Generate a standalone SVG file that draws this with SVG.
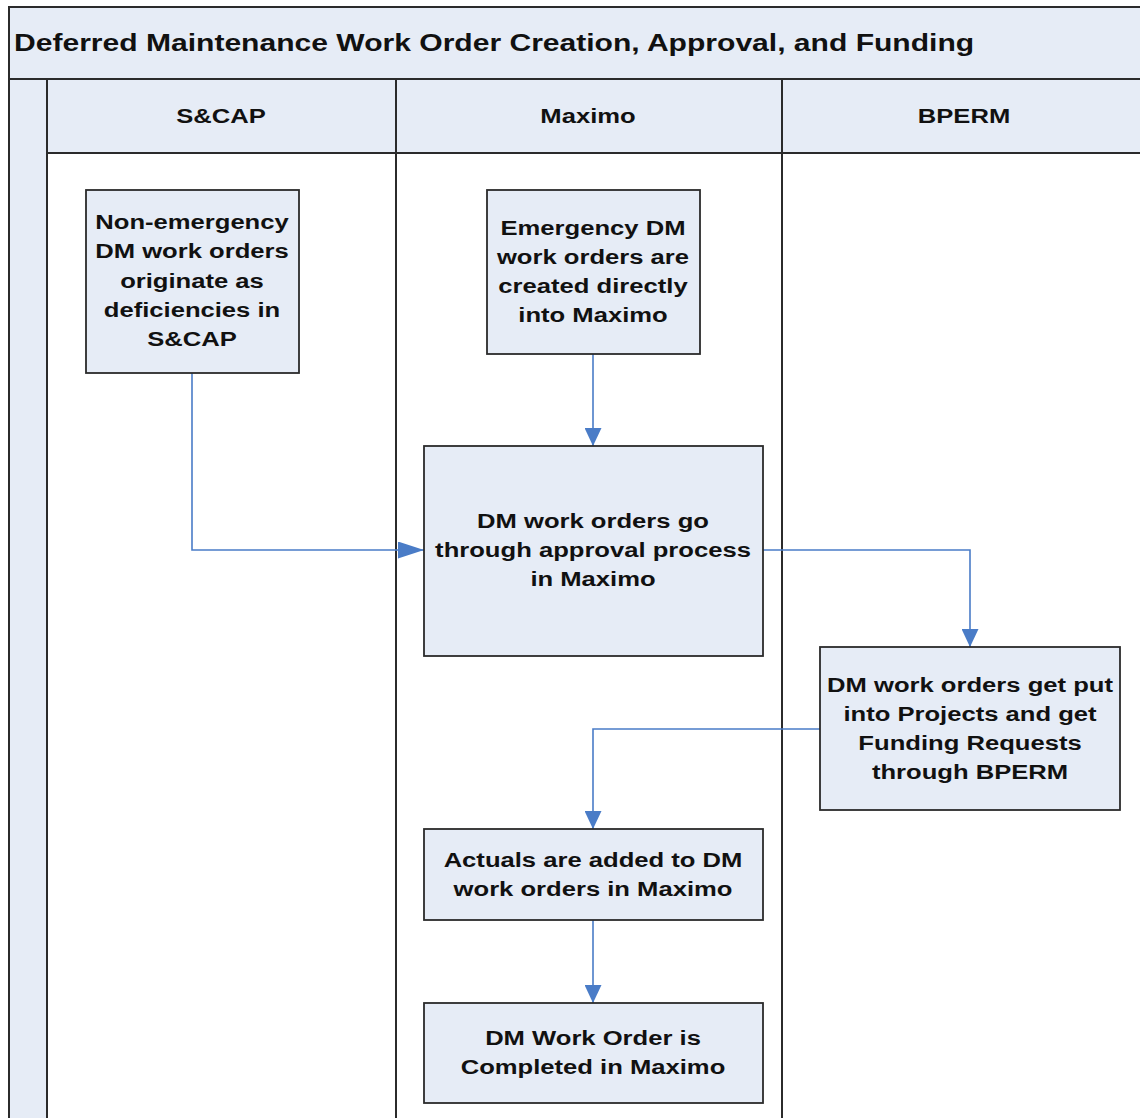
<svg xmlns="http://www.w3.org/2000/svg" width="1140" height="1118" viewBox="0 0 1140 1118">
<defs>
<style>
.band{fill:#E6ECF6;stroke:#2B2B2B;stroke-width:2}
.lane{fill:#FFFFFF;stroke:#2B2B2B;stroke-width:2}
.node{fill:#E6ECF6;stroke:#2B2B2B;stroke-width:1.8}
.t{font-family:"Liberation Sans",Arial,sans-serif;font-weight:bold;font-size:21px;fill:#111;text-anchor:middle}
.title{font-family:"Liberation Sans",Arial,sans-serif;font-weight:bold;font-size:24px;fill:#111}
.c{fill:none;stroke:#4A7CC7;stroke-width:1.6}
</style>
<marker id="ah" viewBox="0 0 18 17" refX="18" refY="8.5" markerWidth="18" markerHeight="17" markerUnits="userSpaceOnUse" orient="auto">
<path d="M0,0 L18,8.5 L0,17 Z" fill="#4A7CC7"/>
</marker>
<marker id="ahh" viewBox="0 0 26 17" refX="26" refY="8.5" markerWidth="26" markerHeight="17" markerUnits="userSpaceOnUse" orient="auto">
<path d="M0,0 L26,8.5 L0,17 Z" fill="#4A7CC7"/>
</marker>
</defs>
<rect width="1140" height="1118" fill="#FFFFFF"/>
<g id="pool">
<rect class="band" x="9" y="7" width="1140" height="72"/>
<text class="title" transform="translate(14,51) scale(1.253,1)">Deferred Maintenance Work Order Creation, Approval, and Funding</text>
<rect class="band" x="9" y="79" width="38" height="1050"/>
<rect class="lane" x="47" y="153" width="349" height="980"/>
<rect class="lane" x="396" y="153" width="386" height="980"/>
<rect class="lane" x="782" y="153" width="370" height="980"/>
</g>
<g id="lane-scap">
<rect class="band" x="47" y="79" width="349" height="74"/>
<text class="t" transform="translate(221,123) scale(1.22,1)">S&amp;CAP</text>
</g>
<g id="lane-maximo">
<rect class="band" x="396" y="79" width="386" height="74"/>
<text class="t" transform="translate(588,123) scale(1.22,1)">Maximo</text>
</g>
<g id="lane-bperm">
<rect class="band" x="782" y="79" width="370" height="74"/>
<text class="t" transform="translate(964,123) scale(1.22,1)">BPERM</text>
</g>
<g id="connectors">
<path class="c" d="M593,354 V446" marker-end="url(#ah)"/>
<path class="c" d="M192,373 V550 H424" marker-end="url(#ahh)"/>
<path class="c" d="M763,550 H970 V647" marker-end="url(#ah)"/>
<path class="c" d="M820,729 H593 V829" marker-end="url(#ah)"/>
<path class="c" d="M593,920 V1003" marker-end="url(#ah)"/>
</g>
<g id="n1">
<rect class="node" x="86" y="190" width="213" height="183"/>
<text class="t" transform="translate(192,229) scale(1.22,1)">Non-emergency</text>
<text class="t" transform="translate(192,258) scale(1.22,1)">DM work orders</text>
<text class="t" transform="translate(192,288) scale(1.22,1)">originate as</text>
<text class="t" transform="translate(192,317) scale(1.22,1)">deficiencies in</text>
<text class="t" transform="translate(192,346) scale(1.22,1)">S&amp;CAP</text>
</g>
<g id="n2">
<rect class="node" x="487" y="190" width="213" height="164"/>
<text class="t" transform="translate(593,235) scale(1.22,1)">Emergency DM</text>
<text class="t" transform="translate(593,264) scale(1.22,1)">work orders are</text>
<text class="t" transform="translate(593,293) scale(1.22,1)">created directly</text>
<text class="t" transform="translate(593,322) scale(1.22,1)">into Maximo</text>
</g>
<g id="n3">
<rect class="node" x="424" y="446" width="339" height="210"/>
<text class="t" transform="translate(593,528) scale(1.22,1)">DM work orders go</text>
<text class="t" transform="translate(593,557) scale(1.22,1)">through approval process</text>
<text class="t" transform="translate(593,586) scale(1.22,1)">in Maximo</text>
</g>
<g id="n4">
<rect class="node" x="820" y="647" width="300" height="163"/>
<text class="t" transform="translate(970,692) scale(1.22,1)">DM work orders get put</text>
<text class="t" transform="translate(970,721) scale(1.22,1)">into Projects and get</text>
<text class="t" transform="translate(970,750) scale(1.22,1)">Funding Requests</text>
<text class="t" transform="translate(970,779) scale(1.22,1)">through BPERM</text>
</g>
<g id="n5">
<rect class="node" x="424" y="829" width="339" height="91"/>
<text class="t" transform="translate(593,867) scale(1.22,1)">Actuals are added to DM</text>
<text class="t" transform="translate(593,896) scale(1.22,1)">work orders in Maximo</text>
</g>
<g id="n6">
<rect class="node" x="424" y="1003" width="339" height="100"/>
<text class="t" transform="translate(593,1045) scale(1.22,1)">DM Work Order is</text>
<text class="t" transform="translate(593,1074) scale(1.22,1)">Completed in Maximo</text>
</g>
</svg>
